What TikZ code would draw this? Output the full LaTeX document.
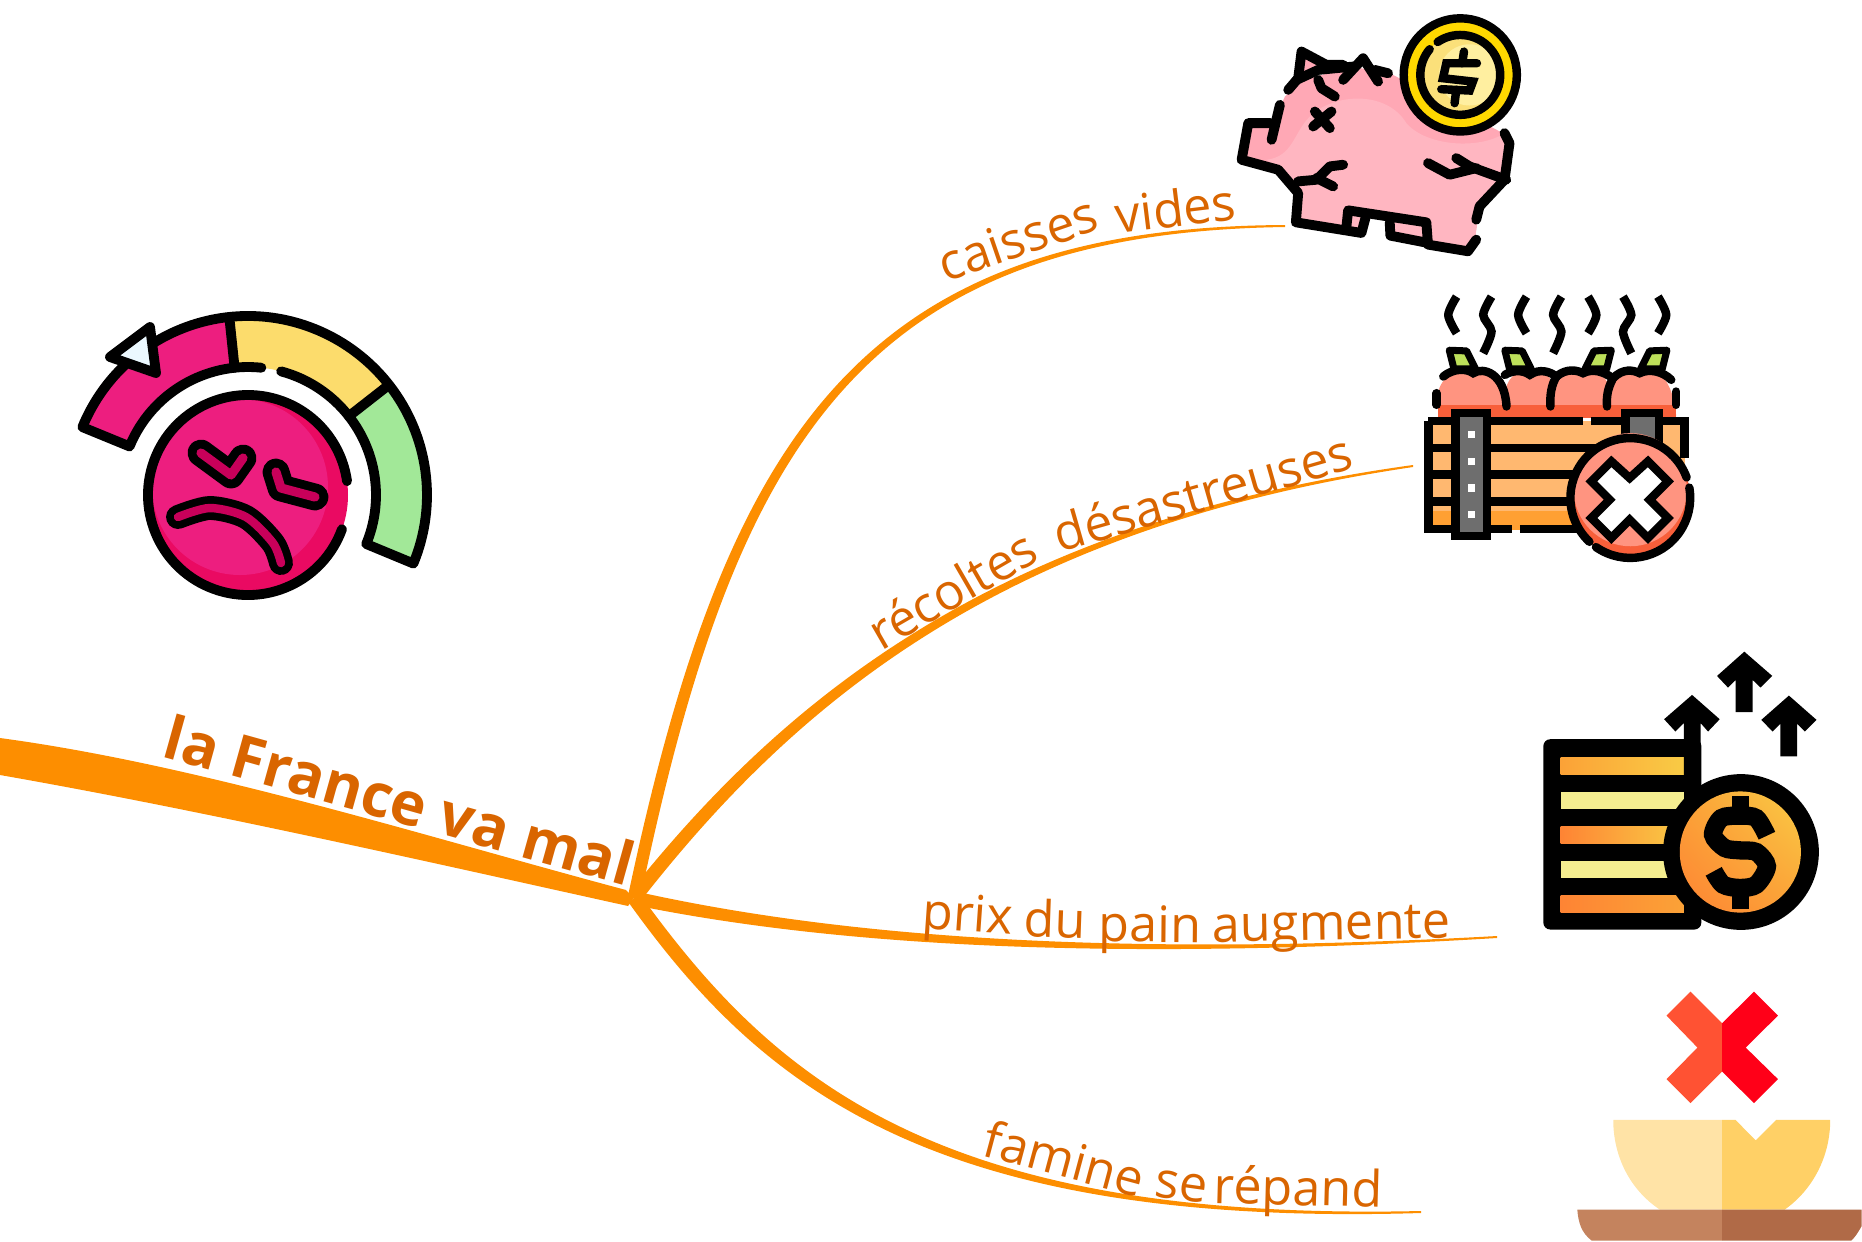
\documentclass[tikz,border=0pt]{standalone}
\usepackage{fontspec}
\usepackage{xcolor}
\usetikzlibrary{shadings}
\setmainfont{Open Sans}

\definecolor{branchorange}{HTML}{FD8E00}
\definecolor{labelorange}{HTML}{D96500}
\definecolor{gaugepink}{HTML}{ED1E7F}
\definecolor{gaugedeep}{HTML}{EA0A62}
\definecolor{gaugemouth}{HTML}{C8005A}
\definecolor{gaugeyellow}{HTML}{FCDC6C}
\definecolor{gaugegreen}{HTML}{A2E898}
\definecolor{piglight}{HTML}{FFB6C1}
\definecolor{pigdark}{HTML}{FFA8B5}
\definecolor{coinring}{HTML}{FFD800}
\definecolor{coinface}{HTML}{FFEFA0}
\definecolor{coinshade}{HTML}{FBE07A}
\definecolor{applelight}{HTML}{FF9480}
\definecolor{appledark}{HTML}{F85F3A}
\definecolor{leafgreen}{HTML}{BDE05A}
\definecolor{planklight}{HTML}{FFB870}
\definecolor{plankdark}{HTML}{FFA033}
\definecolor{postgrey}{HTML}{6E6E6E}
\definecolor{stackorange}{HTML}{FE8434}
\definecolor{stackamber}{HTML}{FBA237}
\definecolor{stackgold}{HTML}{F9CB45}
\definecolor{stackpale}{HTML}{F5EE90}
\definecolor{crossleft}{HTML}{FF5233}
\definecolor{crossright}{HTML}{FF0018}
\definecolor{bowlleft}{HTML}{FFE3A6}
\definecolor{bowlright}{HTML}{FFD066}
\definecolor{plateleft}{HTML}{C4835E}
\definecolor{plateright}{HTML}{B06A47}

\tikzset{
  branchline/.style={fill=branchorange},
  iconline/.style={draw=black, line width=2.8pt, line cap=round, line join=round},
  crateline/.style={draw=black, line width=2.4pt, line cap=butt, line join=miter},
  zoomed/.style={x=0.003333cm, y=-0.003333cm},
  labelword/.style={anchor=base west, inner sep=0pt, text=labelorange, font=\fontsize{14.3}{17}\selectfont},
  titleword/.style={anchor=base west, inner sep=0pt, text=labelorange, font=\fontsize{17}{20}\selectfont\bfseries}
}

\begin{document}
\begin{tikzpicture}[x=0.01cm, y=-0.01cm]
    \useasboundingbox (0,0) rectangle (1862,1241);
    \coordinate (hub) at (634,898);
    \coordinate (vidend) at (1285,225);
    \coordinate (recend) at (1413,465);
    \coordinate (priend) at (1497,936);
    \coordinate (famend) at (1421,1211);

    % Trunk and branches
    \fill[branchline] (0,738) .. controls (200,765) and (420,835) .. (626,890)
        -- (hub) -- (628,906) .. controls (420,860) and (200,810) .. (0,775) -- cycle;
    \fill[branchline] (628,896) .. controls (725,438) and (858,227) .. (vidend)
        -- ++(0,2) .. controls (862,233) and (735,442) .. (640,900) -- (hub) -- cycle;
    \fill[branchline] (629,893) .. controls (786,696) and (999,522) .. (recend)
        -- ++(0,2) .. controls (1001,528) and (794,704) .. (639,903) -- (hub) -- cycle;
    \fill[branchline] (634,891) .. controls (830,935) and (1100,958) .. (priend)
        -- ++(0,2) .. controls (1100,962) and (830,945) .. (634,905) -- (hub) -- cycle;
    \fill[branchline] (639,893) .. controls (771,1076) and (932,1222) .. (famend)
        -- ++(0,2) .. controls (928,1228) and (759,1084) .. (629,903) -- (hub) -- cycle;

    % Labels
    \node[titleword, rotate=-15.6] (titlelabel) at (160,756) {la France va mal};
    \node[labelword, rotate=19] (caisseslabel) at (945,283) {caisses};
    \node[labelword, rotate=7] (videslabel) at (1117,234) {vides};
    \node[labelword, rotate=30] (recolteslabel) at (881,652) {récoltes};
    \node[labelword, rotate=16] (desastreuseslabel) at (1059,553) {désastreuses};
    \node[labelword, rotate=-4] (prixlabel) at (921,928) {prix};
    \node[labelword, rotate=-2] (dulabel) at (1023,936) {du};
    \node[labelword, rotate=-0.5] (painlabel) at (1098,941.5) {pain};
    \node[labelword, rotate=1] (augmentelabel) at (1212,942) {augmente};
    \node[labelword, rotate=-15] (faminelabel) at (980,1155) {famine};
    \node[labelword, rotate=-8] (selabel) at (1153,1196) {se};
    \node[labelword, rotate=-1.5] (repandlabel) at (1213,1203) {répand};

    % Gauge and angry face
    \begin{scope}[shift={(248,495)}, x=0.01cm, y=0.01cm]
        \fill[gaugepink] (157.7:128) -- (157.7:179) arc[start angle=157.7, end angle=96, radius=179]
            -- (96:128) arc[start angle=96, end angle=157.7, radius=128] -- cycle;
        \fill[gaugeyellow] (96:128) -- (96:179) arc[start angle=96, end angle=38, radius=179]
            -- (38:128) arc[start angle=38, end angle=96, radius=128] -- cycle;
        \fill[gaugegreen] (38:128) -- (38:179) arc[start angle=38, end angle=-22.5, radius=179]
            -- (-22.5:128) arc[start angle=-22.5, end angle=38, radius=128] -- cycle;
        \draw[iconline] (84:128) arc[start angle=84, end angle=157.7, radius=128] -- (157.7:179)
            arc[start angle=157.7, end angle=-22.5, radius=179] -- (-22.5:128)
            arc[start angle=-22.5, end angle=38, radius=128] -- (38:179);
        \draw[iconline] (38:128) arc[start angle=38, end angle=75, radius=128];
        \draw[iconline] (96:128) -- (96:179);
        \filldraw[iconline, fill=white!92!cyan] (-138,138) -- (-98,168) -- (-92,122) -- cycle;
        \fill[gaugedeep] (0,0) circle[radius=100];
        \fill[gaugepink] (-8,8) circle[radius=88];
        \draw[iconline] (-20:100) arc[start angle=-20, end angle=-352, radius=100];
        % Eyes and mouth
        \draw[line width=7.6pt, line cap=round, line join=round] (-47,42) -- (-17,20) -- (-5,37);
        \draw[gaugemouth, line width=2.6pt, line cap=round, line join=round] (-47,42) -- (-17,20) -- (-5,37);
        \draw[line width=7.6pt, line cap=round, line join=round] (28,23) -- (33,7) -- (67,-2);
        \draw[gaugemouth, line width=2.6pt, line cap=round, line join=round] (28,23) -- (33,7) -- (67,-2);
        \draw[line width=6.8pt, line cap=round, line join=round] plot[smooth] coordinates {(-70,-22) (-38,-13) (-2,-22) (25,-48) (33,-68)};
        \draw[gaugemouth, line width=2.4pt, line cap=round, line join=round] plot[smooth] coordinates {(-70,-22) (-38,-13) (-2,-22) (25,-48) (33,-68)};
        \fill[gaugepink] (-38,-30) circle[radius=5];
    \end{scope}

    % Broken piggy bank
    \begin{scope}[shift={(1220,0)}, zoomed]
        \fill[pigdark] (80,370) -- (160,370) -- (195,290) -- (250,240) -- (400,200) -- (520,225) -- (850,400)
            -- (870,430) -- (855,540) -- (780,620) -- (765,725) -- (745,750) -- (625,730) -- (510,705)
            -- (510,665) -- (435,650) -- (425,695) -- (230,665) -- (230,580) -- (175,510) -- (65,480) -- cycle;
        \fill[piglight] (140,480) .. controls (220,470) and (220,400) .. (270,350)
            .. controls (340,280) and (500,270) .. (560,370) .. controls (620,440) and (780,450) .. (855,400)
            -- (870,430) -- (855,540) -- (780,620) -- (765,725) -- (745,750) -- (625,730) -- (510,705)
            -- (510,665) -- (435,650) -- (425,695) -- (230,665) -- (230,580) -- (175,510) -- cycle;
        \fill[pigdark] (245,155) -- (320,195) -- (235,235) -- cycle;
        \draw[iconline] (180,315) -- (155,420);
        \draw[iconline] (152,370) -- (85,370) -- (65,480) -- (175,510) -- (235,580) -- (228,668) -- (425,700) -- (437,655);
        \draw[iconline] (380,680) -- (385,632) -- (620,668) -- (625,735) -- (745,755) -- (770,720);
        \draw[iconline] (510,668) -- (512,708) -- (625,730);
        \draw[iconline] (770,660) -- (780,620) -- (855,540) -- (870,430) -- (855,400);
        \draw[iconline] (625,490) -- (690,525) -- (770,505);
        \draw[iconline] (710,475) -- (750,500) -- (860,540);
        \draw[iconline] (235,545) -- (290,540) -- (330,500) -- (370,495);
        \draw[iconline] (290,535) -- (340,560);
        \draw[iconline] (205,270) -- (235,235) -- (245,155) -- (320,195) -- (370,195);
        \draw[iconline] (230,240) -- (295,210) -- (400,200);
        \draw[iconline] (370,240) -- (430,175) -- (475,245);
        \draw[iconline] (465,210) -- (505,220);
        \draw[iconline] (295,240) -- (305,265) -- (345,290);
        \draw[iconline] (285,335) -- (330,385);
        \draw[iconline] (335,335) -- (280,380);
        % Coin
        \filldraw[crateline, fill=coinring] (722,225) circle[radius=170];
        \fill[coinshade] (722,225) circle[radius=120];
        \fill[coinface] (750,225) circle[radius=92];
        \begin{scope}[shift={(722,225)}, x=0.003333cm, y=0.003333cm]
            \draw[crateline, line cap=round] (124.5:120) arc[start angle=124.5, end angle=-220, radius=120];
        \end{scope}
        \draw[crateline, line cap=round] (772,190) -- (680,190) -- (670,235) -- (760,245) -- (750,272) -- (665,268);
        \draw[crateline, line cap=round] (733,155) -- (728,190);
        \draw[crateline, line cap=round] (710,270) -- (705,310);
    \end{scope}

    % Rotten crate
    \begin{scope}[shift={(1410,285)}, zoomed]
        \foreach \wx/\wd in {130/-1, 340/-1, 545/1, 755/1}
            \draw[crateline] plot[smooth] coordinates {(\wx+10*\wd*-1,35) (\wx+15*\wd,90) (\wx+10*\wd*-1,145)};
        \foreach \wx/\wd in {235/-1, 445/-1, 650/1}
            \draw[crateline] plot[smooth] coordinates {(\wx+10*\wd*-1,35) (\wx+15*\wd,90) (\wx+10*\wd*-1,140) (\wx+15*\wd,205)};
        % Apples
        \fill[applelight] (85,395) -- (85,320) .. controls (100,260) and (170,240) .. (190,265)
            .. controls (220,240) and (280,270) .. (285,320) .. controls (300,260) and (340,250) .. (360,270)
            .. controls (390,250) and (420,260) .. (432,310) .. controls (450,250) and (500,250) .. (520,265)
            .. controls (550,250) and (590,270) .. (600,310) .. controls (620,250) and (670,250) .. (690,265)
            .. controls (740,240) and (790,280) .. (800,395) -- cycle;
        \fill[appledark] (85,360) rectangle (800,400);
        \draw[crateline, line cap=round] (80,360) -- (80,325);
        \draw[crateline, line cap=round] (100,275) .. controls (130,250) and (170,250) .. (190,265) .. controls (220,245) and (285,265) .. (290,365);
        \draw[crateline, line cap=round] (285,270) .. controls (310,255) and (340,255) .. (360,270) .. controls (390,250) and (420,260) .. (440,275) .. controls (425,300) and (420,330) .. (422,365);
        \draw[crateline, line cap=round] (440,275) .. controls (470,250) and (500,255) .. (520,265) .. controls (550,250) and (580,260) .. (610,280) .. controls (595,310) and (590,330) .. (592,365);
        \draw[crateline, line cap=round] (610,280) .. controls (640,250) and (670,255) .. (690,265) .. controls (720,250) and (760,260) .. (785,285);
        \draw[crateline, line cap=round] (800,320) -- (800,360);
        % Leaves
        \foreach \lax/\lbx/\lcx/\ldx in {118/170/197/132, 285/337/364/299, 605/553/526/591, 772/720/693/758}
            \filldraw[crateline, line width=2pt, line join=round, fill=leafgreen] (\lax,196) -- (\lbx,198) -- (\lcx,252) -- (\ldx,252) -- cycle;
        % Planks and posts
        \fill[planklight] (58,408) rectangle (825,735);
        \fill[plankdark] (58,680) rectangle (825,735);
        \draw[crateline] (55,408) -- (520,408);
        \draw[crateline] (545,408) -- (825,408) -- (825,520);
        \draw[crateline] (55,408) -- (55,733) -- (305,733);
        \draw[crateline] (330,733) -- (520,733);
        \foreach \py in {490, 570, 650}
            \draw[crateline] (55,\py) -- (560,\py);
        \filldraw[crateline, fill=postgrey] (137,385) rectangle (232,755);
        \filldraw[crateline, fill=postgrey] (648,385) rectangle (748,480);
        \foreach \py in {450, 530, 610, 690}
            \fill[white] (173,\py-11) rectangle (195,\py+11);
        % Cross badge
        \fill[appledark] (662,640) circle[radius=180];
        \fill[applelight] (662,615) circle[radius=170];
        \begin{scope}[shift={(662,640)}, x=0.003333cm, y=0.003333cm]
            \draw[crateline, line cap=round] (20:180) arc[start angle=20, end angle=227, radius=180];
            \draw[crateline, line cap=round] (-125:180) arc[start angle=-125, end angle=10, radius=180];
        \end{scope}
        \filldraw[crateline, fill=white] (660,580) -- (715,530) -- (775,590) -- (720,645) -- (775,700) -- (715,760) -- (660,705)
            -- (605,760) -- (545,700) -- (600,645) -- (545,590) -- (605,530) -- cycle;
    \end{scope}

    % Coin stack and rising arrows
    \begin{scope}[shift={(1530,640)}, zoomed]
        \fill[black, rounded corners=2pt] (40,298) rectangle (515,870);
        \shade[left color=stackamber, right color=stackgold] (92,352) rectangle (462,403);
        \fill[stackpale] (92,456) rectangle (462,507);
        \shade[left color=stackorange, right color=stackgold] (92,560) rectangle (462,611);
        \fill[stackpale] (92,665) rectangle (462,715);
        \shade[left color=stackorange, right color=stackamber] (92,769) rectangle (462,820);
        \fill[black] (487,165) -- (570,238) -- (535,275) -- (513,250) -- (513,430) -- (462,430) -- (462,250) -- (437,275) -- (403,238) -- cycle;
        \fill[black] (644,35) -- (728,108) -- (693,143) -- (669,120) -- (669,217) -- (618,217) -- (618,120) -- (595,143) -- (562,108) -- cycle;
        \fill[black] (778,167) -- (861,240) -- (826,275) -- (803,252) -- (803,350) -- (752,350) -- (752,252) -- (729,275) -- (695,240) -- cycle;
        \fill[black] (634,637) circle[radius=234];
        \shade[lower left=stackorange, upper right=stackgold, lower right=stackamber, upper left=stackamber] (632,637) circle[radius=182];
        \draw[line width=5.2pt] plot[smooth] coordinates {(712,588) (680,535) (630,528) (575,535) (550,585) (585,625) (630,632) (680,637) (712,680) (680,735) (630,745) (580,735) (552,695)};
        \fill[black] (608,468) rectangle (658,530);
        \fill[black] (608,745) rectangle (658,808);
    \end{scope}

    % Empty bowl
    \begin{scope}[shift={(1560,970)}, zoomed]
        \fill[crossleft] (487,160) -- (392,65) -- (320,137) -- (413,233) -- (320,328) -- (392,400) -- (487,305) -- cycle;
        \fill[crossright] (487,160) -- (583,65) -- (655,137) -- (558,233) -- (655,328) -- (583,400) -- (487,305) -- cycle;
        \fill[bowlleft] (160,450) -- (487,450) -- (487,720) -- (300,720) .. controls (210,660) and (160,560) .. (160,450) -- cycle;
        \fill[bowlright] (487,450) -- (527,450) -- (588,512) -- (650,450) -- (812,450) .. controls (812,560) and (760,660) .. (675,720) -- (487,720) -- cycle;
        \fill[plateleft] (52,720) -- (487,720) -- (487,813) -- (95,813) .. controls (65,790) and (55,760) .. (52,720) -- cycle;
        \fill[plateright] (487,720) -- (906,720) -- (906,770) .. controls (895,790) and (885,805) .. (875,813) -- (487,813) -- cycle;
    \end{scope}
\end{tikzpicture}
\end{document}
